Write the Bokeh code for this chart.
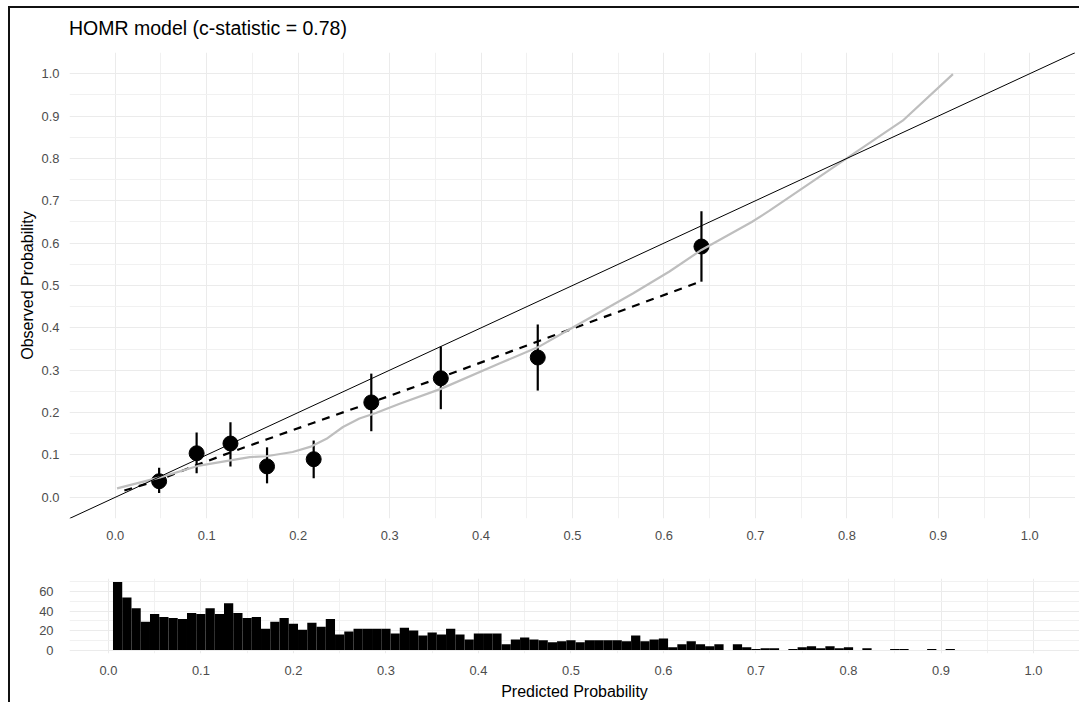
from bokeh.plotting import figure
from bokeh.layouts import column
from bokeh.models import FixedTicker, PrintfTickFormatter, Slope, Range1d, Div
from bokeh.embed import file_html
from bokeh.resources import INLINE

# ---------------- data ----------------
title_text = "HOMR model (c-statistic = 0.78)"
x_label = "Predicted Probability"
y_label = "Observed Probability"

# grouped calibration points (deciles) with 95% CI
group_pred = [0.048, 0.089, 0.126, 0.166, 0.217, 0.280, 0.356, 0.462, 0.641]
group_obs = [0.038, 0.104, 0.127, 0.073, 0.090, 0.224, 0.281, 0.330, 0.592]
group_lower = [0.010, 0.057, 0.073, 0.033, 0.045, 0.156, 0.208, 0.252, 0.509]
group_upper = [0.070, 0.153, 0.177, 0.118, 0.134, 0.292, 0.356, 0.408, 0.675]

# dashed line (fitted calibration)
dash_x = [0.010, 0.048, 0.089, 0.126, 0.166, 0.217, 0.280, 0.356, 0.462, 0.641]
dash_y = [0.016, 0.041, 0.076, 0.106, 0.137, 0.176, 0.224, 0.283, 0.368, 0.510]

# loess smooth
loess_x = [0.002, 0.049, 0.092, 0.147, 0.165, 0.194, 0.213, 0.231, 0.249, 0.267,
           0.285, 0.311, 0.356, 0.420, 0.462, 0.493, 0.511, 0.566, 0.606, 0.641,
           0.696, 0.715, 0.788, 0.861, 0.916]
loess_y = [0.021, 0.047, 0.075, 0.095, 0.097, 0.107, 0.119, 0.138, 0.166, 0.186,
           0.199, 0.221, 0.256, 0.316, 0.354, 0.392, 0.414, 0.481, 0.533, 0.584,
           0.650, 0.676, 0.783, 0.889, 0.999]

# histogram of predicted probabilities (bin width 0.01, bins centred on 0.01 .. 1.00)
bin_width = 0.01
hist_counts = [70, 54, 43, 29, 37, 34, 33, 32, 38, 37,
               43, 37, 48, 38, 33, 34, 22, 29, 33, 27,
               21, 28, 24, 32, 16, 19, 22, 22, 22, 22,
               17, 23, 20, 15, 18, 16, 22, 16, 11, 17,
               17, 17, 6, 11, 13, 11, 10, 8, 9, 10,
               8, 10, 10, 10, 10, 9, 15, 9, 11, 12,
               3, 6, 9, 6, 4, 6, 0, 6, 3, 1,
               2, 2, 0, 1, 3, 4, 2, 4, 2, 3,
               0, 2, 0, 0, 1, 1, 0, 0, 1, 0,
               1, 0, 0, 0, 0, 0, 0, 0, 0, 0]
bin_centers = [round(bin_width * (i + 1), 2) for i in range(len(hist_counts))]

prob_ticks = [0.0, 0.1, 0.2, 0.3, 0.4, 0.5, 0.6, 0.7, 0.8, 0.9, 1.0]
prob_minor = [-0.05, 0.05, 0.15, 0.25, 0.35, 0.45, 0.55, 0.65, 0.75, 0.85, 0.95, 1.05]
count_ticks = [0, 20, 40, 60]
count_minor = [10, 30, 50, 70]

FONT = "Liberation Sans"
GRID_MAJOR = "#ebebeb"
GRID_MINOR = "#f1f1f1"
TICK_COLOR = "#4d4d4d"


def style_axes(p):
    p.outline_line_color = None
    p.background_fill_color = "white"
    p.border_fill_color = "white"
    for ax in p.axis:
        ax.axis_line_color = None
        ax.major_tick_line_color = None
        ax.minor_tick_line_color = None
        ax.major_tick_out = 0
        ax.major_tick_in = 0
        ax.minor_tick_out = 0
        ax.minor_tick_in = 0
        ax.major_label_text_font = FONT
        ax.major_label_text_font_size = "12.9px"
        ax.major_label_text_color = TICK_COLOR
        ax.axis_label_text_font = FONT
        ax.axis_label_text_font_size = "16px"
        ax.axis_label_text_font_style = "normal"
        ax.axis_label_text_color = "black"
    for g in (p.xgrid, p.ygrid):
        g.grid_line_color = GRID_MAJOR
        g.grid_line_width = 1
        g.minor_grid_line_color = GRID_MINOR
        g.minor_grid_line_width = 1


# ---------------- title ----------------
title_div = Div(
    text=('<div style="font-family:\'Liberation Sans\';font-size:19.5px;'
          'line-height:1;color:black;padding-left:59px;padding-top:11px;'
          'white-space:nowrap">' + title_text + '</div>'),
    width=1065, height=40, margin=0)

# ---------------- main calibration plot ----------------
p1 = figure(frame_width=1006, frame_height=466,
            x_range=Range1d(-0.05, 1.05), y_range=Range1d(-0.05, 1.05),
            output_backend="svg", toolbar_location=None,
            min_border_left=59, min_border_right=0,
            min_border_top=4, min_border_bottom=30)

p1.xaxis.ticker = FixedTicker(ticks=prob_ticks, minor_ticks=prob_minor)
p1.yaxis.ticker = FixedTicker(ticks=prob_ticks, minor_ticks=prob_minor)
p1.xaxis.formatter = PrintfTickFormatter(format="%.1f")
p1.yaxis.formatter = PrintfTickFormatter(format="%.1f")
p1.yaxis.axis_label = y_label
style_axes(p1)
p1.xaxis.major_label_standoff = 12
p1.yaxis.major_label_standoff = 10
p1.yaxis.axis_label_standoff = 3

p1.segment(x0=group_pred, y0=group_lower, x1=group_pred, y1=group_upper,
           line_color="black", line_width=2.2)
p1.scatter(x=group_pred, y=group_obs, size=15, fill_color="black", line_color="black")
p1.line(x=dash_x, y=dash_y, line_color="black", line_width=2.2, line_dash="8 7")
p1.line(x=loess_x, y=loess_y, line_color="#bebebe", line_width=2.2)
p1.add_layout(Slope(gradient=1, y_intercept=0, line_color="black", line_width=1))

# ---------------- histogram ----------------
# frame left edge is aligned with the main plot by the column layout,
# so the x range is set so that 0.0 / 1.0 fall where the reference puts them
p2 = figure(frame_width=1010, frame_height=75,
            x_range=Range1d(-0.042, 1.0497), y_range=Range1d(-3.5, 73.5),
            output_backend="svg", toolbar_location=None,
            min_border_left=59, min_border_right=0,
            min_border_top=30, min_border_bottom=46)
p2.xaxis.ticker = FixedTicker(ticks=prob_ticks, minor_ticks=prob_minor)
p2.yaxis.ticker = FixedTicker(ticks=count_ticks, minor_ticks=count_minor)
p2.xaxis.formatter = PrintfTickFormatter(format="%.1f")
p2.xaxis.axis_label = x_label
style_axes(p2)
p2.xaxis.major_label_standoff = 12
p2.xaxis.axis_label_standoff = 5
p2.yaxis.major_label_standoff = 16

p2.vbar(x=bin_centers, top=hist_counts, bottom=0, width=bin_width,
        fill_color="black", line_color=None)

layout = column(title_div, p1, p2,
                styles={"border-left": "2px solid #111",
                        "border-top": "2px solid #111",
                        "margin-left": "8px", "margin-top": "6px"})

open("out.html", "w").write(file_html(layout, INLINE))
